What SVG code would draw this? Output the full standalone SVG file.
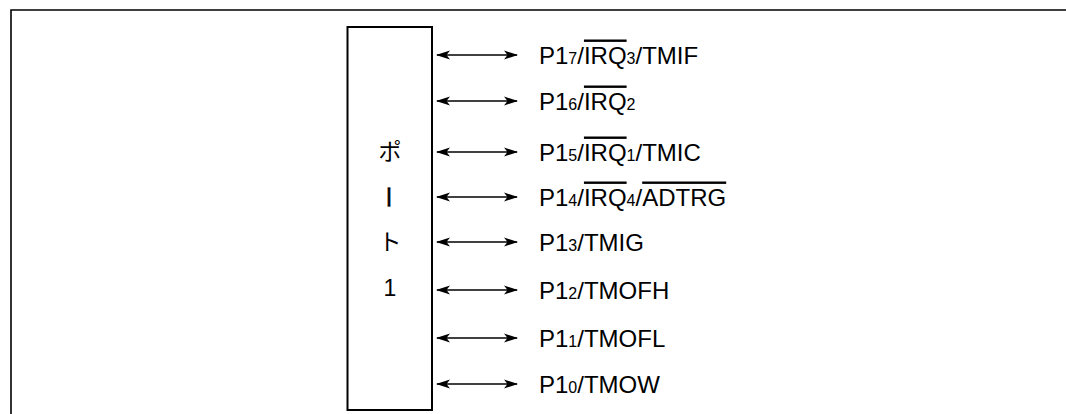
<svg xmlns="http://www.w3.org/2000/svg" width="1066" height="414" viewBox="0 0 1066 414">
<style>
.frame{fill:none;stroke:#000;stroke-width:1.6}
.box{fill:#fff;stroke:#000;stroke-width:2}
.conn{stroke:#000;stroke-width:1.4;fill:none}
.lbl{font-family:"Liberation Sans",Arial,sans-serif;font-size:24px;fill:#000}
.sub{font-size:16px}
.ov{text-decoration:overline}
.jp{font-family:"Noto Sans CJK JP","Liberation Sans",sans-serif;font-size:23px;fill:#000;text-anchor:middle}
</style>
<defs>
<marker id="ah" viewBox="0 0 14 10" refX="13" refY="5" markerWidth="14" markerHeight="10" markerUnits="userSpaceOnUse" orient="auto-start-reverse">
<path d="M0,0.5 L14,5 L0,9.5 L3.5,5 Z" fill="#000"/>
</marker>
</defs>
<g id="frame">
<polyline class="frame" points="11,414 11,10 1066,10"/>
</g>
<g id="port1">
<rect class="box" x="347.5" y="27" width="84.5" height="383"/>
<text class="jp" x="390" y="160">ポ</text>
<text class="jp" x="0" y="0" transform="translate(390,197) rotate(90)" dominant-baseline="central" style="stroke:#000;stroke-width:0.6">ー</text>
<text class="jp" x="390" y="250">ト</text>
<text class="jp" x="390" y="296" style="font-family:'Liberation Sans',sans-serif">1</text>
</g>
<g id="connectors">
<line class="conn" x1="437" y1="55" x2="517" y2="55" marker-start="url(#ah)" marker-end="url(#ah)"/>
<line class="conn" x1="437" y1="101" x2="517" y2="101" marker-start="url(#ah)" marker-end="url(#ah)"/>
<line class="conn" x1="437" y1="152" x2="517" y2="152" marker-start="url(#ah)" marker-end="url(#ah)"/>
<line class="conn" x1="437" y1="197" x2="517" y2="197" marker-start="url(#ah)" marker-end="url(#ah)"/>
<line class="conn" x1="437" y1="242" x2="517" y2="242" marker-start="url(#ah)" marker-end="url(#ah)"/>
<line class="conn" x1="437" y1="290" x2="517" y2="290" marker-start="url(#ah)" marker-end="url(#ah)"/>
<line class="conn" x1="437" y1="338" x2="517" y2="338" marker-start="url(#ah)" marker-end="url(#ah)"/>
<line class="conn" x1="437" y1="384" x2="517" y2="384" marker-start="url(#ah)" marker-end="url(#ah)"/>
</g>
<g id="p17"><text class="lbl" x="539" y="63.5">P1<tspan class="sub">7</tspan>/<tspan class="ov">IRQ</tspan><tspan class="sub">3</tspan>/TMIF</text></g>
<g id="p16"><text class="lbl" x="539" y="109.5">P1<tspan class="sub">6</tspan>/<tspan class="ov">IRQ</tspan><tspan class="sub">2</tspan></text></g>
<g id="p15"><text class="lbl" x="539" y="160.5">P1<tspan class="sub">5</tspan>/<tspan class="ov">IRQ</tspan><tspan class="sub">1</tspan>/TMIC</text></g>
<g id="p14"><text class="lbl" x="539" y="205.5">P1<tspan class="sub">4</tspan>/<tspan class="ov">IRQ</tspan><tspan class="sub">4</tspan>/<tspan class="ov">ADTRG</tspan></text></g>
<g id="p13"><text class="lbl" x="539" y="250.5">P1<tspan class="sub">3</tspan>/TMIG</text></g>
<g id="p12"><text class="lbl" x="539" y="298.5">P1<tspan class="sub">2</tspan>/TMOFH</text></g>
<g id="p11"><text class="lbl" x="539" y="346.5">P1<tspan class="sub">1</tspan>/TMOFL</text></g>
<g id="p10"><text class="lbl" x="539" y="392.5">P1<tspan class="sub">0</tspan>/TMOW</text></g>
</svg>
